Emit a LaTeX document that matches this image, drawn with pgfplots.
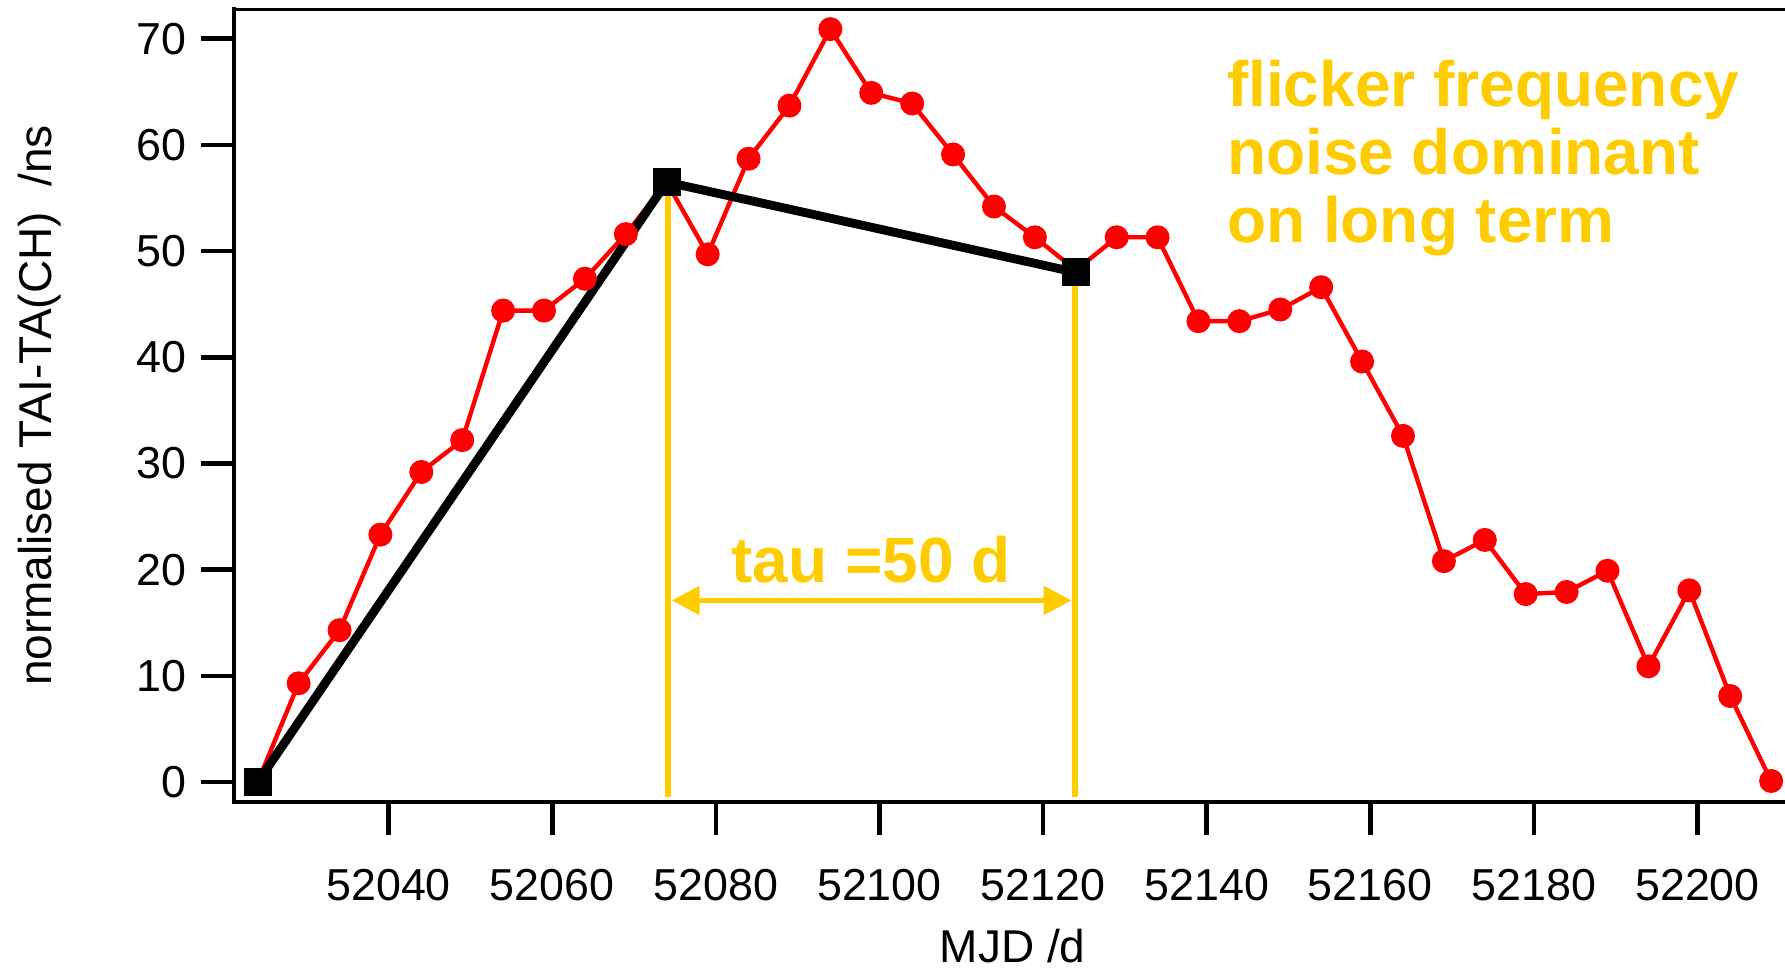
\documentclass[border=0pt]{standalone}
\usepackage{fontspec}
\setmainfont{Liberation Sans}
\usepackage{pgfplots}
\pgfplotsset{compat=1.18}
\usetikzlibrary{arrows.meta}
\definecolor{gold}{RGB}{255,204,0}
\definecolor{myred}{RGB}{255,0,0}
\begin{document}
\begin{tikzpicture}
\useasboundingbox (-58.5pt,-41.5pt) rectangle (387.75pt,200.5pt);
\begin{axis}[
  at={(0,0)}, anchor=south west,
  width=387.75pt, height=198.25pt, scale only axis,
  xmin=52021.1, xmax=52210.7, ymin=-1.88, ymax=72.8,
  axis x line*=bottom, axis y line*=left,
  axis line style={line width=1.15pt, line cap=rect},
  tick style={line width=1.15pt, black},
  major tick length=8.3pt, tick align=outside,
  xtick={52040,52060,52080,52100,52120,52140,52160,52180,52200},
  xticklabels={52040,52060,52080,52100,52120,52140,52160,52180,52200},
  ytick={0,10,...,70},
  minor tick num=0,
  scaled x ticks=false,
  /pgf/number format/1000 sep={},
  /pgf/number format/assume math mode=true,
  ticklabel style={font=\fontsize{11.2}{13}\selectfont},
  xticklabel style={yshift=-5pt},
  xlabel={MJD /d},
  ylabel={normalised TAI-TA(CH)\ \ /ns},
  label style={font=\fontsize{11.5}{13}\selectfont},
  xlabel style={at={(axis description cs:0.502,0)}, anchor=base, yshift=-40pt},
  ylabel style={at={(axis description cs:-0.1251,0.5)}, anchor=center},
]
\addplot[myred, line width=1.1pt, mark=*, mark size=2.8pt,
  mark options={solid, fill=myred, draw=myred, line width=0.4pt}] coordinates {
(52024,0) (52029,9.3) (52034,14.3) (52039,23.3) (52044,29.2) (52049,32.2)
(52054,44.4) (52059,44.4) (52064,47.4) (52069,51.6) (52074,56.5) (52079,49.7)
(52084,58.7) (52089,63.7) (52094,70.9) (52099,64.9) (52104,63.9) (52109,59.1)
(52114,54.2) (52119,51.3) (52124,48.2) (52129,51.3) (52134,51.3) (52139,43.4)
(52144,43.4) (52149,44.5) (52154,46.6) (52159,39.6) (52164,32.6) (52169,20.8)
(52174,22.8) (52179,17.7) (52184,17.9) (52189,19.9) (52194,10.9) (52199,18.05)
(52204,8.1) (52209,0.1)
};
\addplot[black, line width=2.2pt, mark=square*, mark size=3.25pt,
  mark options={solid, fill=black, line width=0.5pt}] coordinates {
(52024,0) (52074,56.5) (52124,48)
};
\addplot[gold, line width=1.5pt] coordinates {(52074.15,-1.4) (52074.15,56.3)};
\addplot[gold, line width=1.5pt] coordinates {(52123.9,-1.4) (52123.9,48.2)};
\addplot[gold, line width=1.4pt, {Triangle[length=7pt,width=7pt]}-{Triangle[length=7pt,width=7pt]}]
  coordinates {(52074.6,17.1) (52123.5,17.1)};
\draw[line width=1.15pt, line cap=rect] (rel axis cs:0,1) -- (rel axis cs:1,1);
\node[anchor=north west, inner sep=0pt, text=gold, align=left,
  font=\fontsize{16}{17.1}\selectfont\bfseries] at (axis cs:52142.4,68.1)
  {flicker frequency\\noise dominant\\on long term};
\node[anchor=base, inner sep=0pt, text=gold,
  font=\fontsize{16}{17.1}\selectfont\bfseries] at (axis cs:52099,18.83) {tau =50 d};
\end{axis}
\end{tikzpicture}
\end{document}
